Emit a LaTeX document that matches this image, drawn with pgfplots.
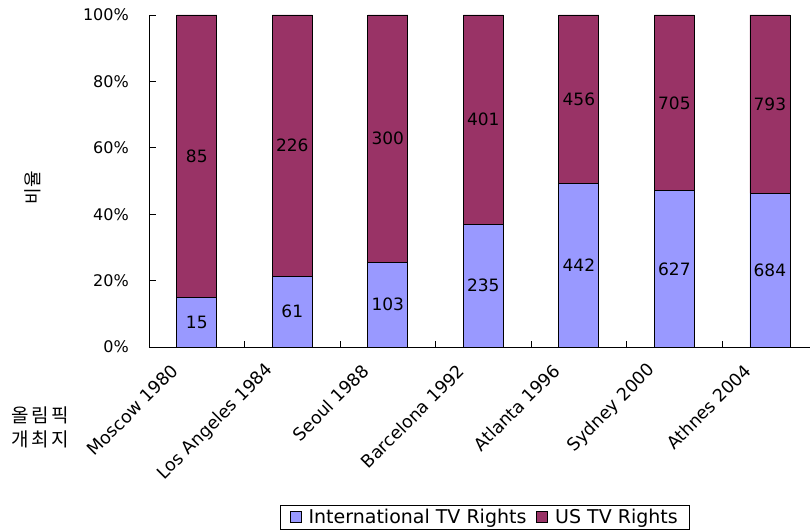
\documentclass[border=0pt]{standalone}
\usepackage{pgfplots}
\usepackage{pgfplotstable}
\pgfplotsset{compat=1.18}
\usepackage{fontspec}
\setmainfont{DejaVu Sans}
\newfontfamily\kr{Noto Sans CJK KR}
\definecolor{intl}{HTML}{9999FF}
\definecolor{usc}{HTML}{993366}

\pgfplotstableread{
x int us
0 15 85
1 61 226
2 103 300
3 235 401
4 442 456
5 627 705
6 684 793
}\tv

\begin{document}
\begin{tikzpicture}[x=1bp,y=1bp]
\path[use as bounding box] (0,0) rectangle (810,530);
\begin{axis}[
  at={(149bp,183bp)}, anchor=south west,
  scale only axis, width=661bp, height=332bp,
  xmin=-0.5, xmax=6.42, ymin=0, ymax=100,
  axis lines=left, axis line style={-, black, line width=0.8pt},
  ybar stacked, bar width=40bp,
  tick align=inside,
  xtick={0,...,6},
  xticklabels={Moscow 1980, Los Angeles 1984, Seoul 1988, Barcelona 1992, Atlanta 1996, Sydney 2000, Athnes 2004},
  major x tick style={draw=none},
  minor xtick={0.5,1.5,...,5.5},
  minor tick length=6bp,
  minor x tick style={black, line width=0.6pt},
  x tick label style={font=\fontsize{17.5bp}{20bp}\selectfont, rotate=45, anchor=east, inner sep=0pt, xshift=-30bp, yshift=1bp},
  ytick={0,20,...,100},
  major tick length=7bp,
  y tick style={black, line width=0.6pt},
  yticklabel={\pgfmathprintnumber{\tick}\%},
  y tick label style={font=\fontsize{16bp}{19bp}\selectfont, anchor=east, inner sep=0pt, xshift=-20bp},
  /pgf/number format/assume math mode=true,
  legend style={at={(0.508,-0.476)}, anchor=north, draw=black, line width=0.6pt,
    font=\fontsize{19bp}{22bp}\selectfont, legend columns=2,
    inner xsep=9bp, inner ysep=1bp,
    nodes={inner xsep=2bp, inner ysep=3bp},
    /tikz/every odd column/.append style={column sep=5bp},
    /tikz/every even column/.append style={column sep=8bp}},
  legend cell align=left,
]
\addplot[fill=intl, draw=black, line width=0.8pt,
  legend image code/.code={\draw[fill=intl, draw=black, line width=0.8pt] (0bp,-5.5bp) rectangle (11bp,5.5bp);}]
  table[x=x, y expr={100*\thisrow{int}/(\thisrow{int}+\thisrow{us})}] {\tv};
\addlegendentry{International TV Rights}
\addplot[fill=usc, draw=black, line width=0.8pt,
  legend image code/.code={\draw[fill=usc, draw=black, line width=0.8pt] (0bp,-5.5bp) rectangle (11bp,5.5bp);}]
  table[x=x, y expr={100*\thisrow{us}/(\thisrow{int}+\thisrow{us})}] {\tv};
\addlegendentry{US TV Rights}
\end{axis}
\begin{axis}[
  at={(149bp,183bp)}, anchor=south west,
  scale only axis, width=661bp, height=332bp,
  xmin=-0.5, xmax=6.42, ymin=0, ymax=100,
  hide axis,
  nodes near coords, point meta=explicit symbolic,
  every node near coord/.append style={anchor=center, font=\fontsize{17bp}{20bp}\selectfont, black, inner sep=0pt},
]
\addplot[only marks, mark=none, draw=none]
  table[x=x, y expr={50*\thisrow{int}/(\thisrow{int}+\thisrow{us})}, meta=int] {\tv};
\addplot[only marks, mark=none, draw=none]
  table[x=x, y expr={100*\thisrow{int}/(\thisrow{int}+\thisrow{us})+50*\thisrow{us}/(\thisrow{int}+\thisrow{us})}, meta=us] {\tv};
\end{axis}
\node[font=\kr\fontsize{18bp}{20bp}\selectfont, rotate=90] at (33,342) {비율};
\node[font=\kr\fontsize{19bp}{24bp}\selectfont, align=center] at (40,103) {올\hspace{2.5bp}림\hspace{2.5bp}픽\\개\hspace{2.5bp}최\hspace{2.5bp}지};
\end{tikzpicture}
\end{document}
